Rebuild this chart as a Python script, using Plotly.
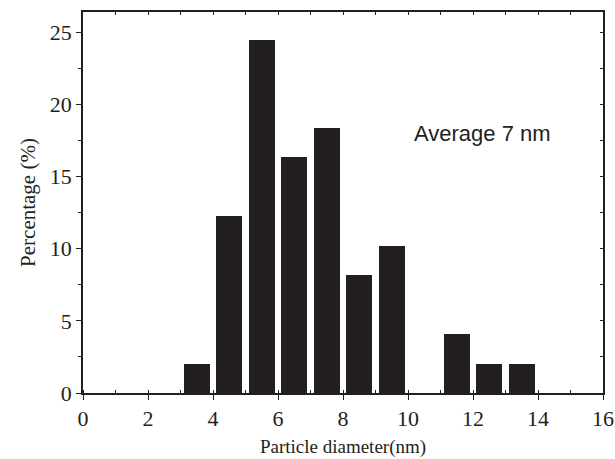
import plotly.graph_objects as go

diameters = [3.5, 4.5, 5.5, 6.5, 7.5, 8.5, 9.5, 10.5, 11.5, 12.5, 13.5]
percentages = [2.04, 12.24, 24.49, 16.33, 18.37, 8.16, 10.20, 0.0, 4.08, 2.04, 2.04]
x_ticks = [0, 2, 4, 6, 8, 10, 12, 14, 16]
y_ticks = [0, 5, 10, 15, 20, 25]

serif = "Liberation Serif"
sans = "Liberation Sans"
axc = "#231f20"

fig = go.Figure()
fig.add_trace(go.Bar(
    x=diameters, y=percentages, width=0.8,
    marker=dict(color="#231f20", line=dict(width=0)),
    showlegend=False,
))
# invisible trace for mirrored axes
fig.add_trace(go.Scatter(x=[0], y=[0], xaxis="x2", yaxis="y2", mode="markers",
                         marker=dict(opacity=0), showlegend=False, hoverinfo="skip"))

xr = [0, 16]
yr = [0, 26.4]
fig.update_layout(
    width=615, height=459,
    margin=dict(l=83, r=12, t=12, b=66),
    paper_bgcolor="white", plot_bgcolor="white",
    bargap=0,
    xaxis=dict(range=xr, tickvals=x_ticks, ticktext=[str(v) for v in x_ticks],
               automargin=False,
               ticks="outside", ticklen=5, tickwidth=1.2, tickcolor=axc,
               minor=dict(dtick=1, ticks="inside", ticklen=3, tickcolor=axc, tickwidth=1.2),
               showline=True, linecolor=axc, linewidth=1.5, showgrid=False, zeroline=False,
               tickfont=dict(family=serif, size=22, color="#231f20"),
               title=dict(text="Particle diameter(nm)", font=dict(family=serif, size=19, color="#231f20"), standoff=10)),
    yaxis=dict(range=yr, tickvals=y_ticks, ticktext=[str(v) for v in y_ticks],
               automargin=False,
               ticks="outside", ticklen=5, tickwidth=1.2, tickcolor=axc,
               minor=dict(dtick=2.5, ticks="outside", ticklen=3, tickcolor=axc, tickwidth=1.2),
               showline=True, linecolor=axc, linewidth=1.5, showgrid=False, zeroline=False,
               tickfont=dict(family=serif, size=22, color="#231f20"),
               title=dict(text="Percentage (%)", font=dict(family=serif, size=21, color="#231f20"), standoff=8)),
    xaxis2=dict(range=xr, overlaying="x", side="top", showticklabels=False, automargin=False,
                tickvals=list(range(0, 17)), ticks="inside", ticklen=3, tickcolor=axc, tickwidth=1.2,
                showline=True, linecolor=axc, linewidth=1.5, showgrid=False, zeroline=False),
    yaxis2=dict(range=yr, overlaying="y", side="right", showticklabels=False, automargin=False,
                tickvals=[2.5 * i for i in range(11)], ticks="inside", ticklen=3, tickcolor=axc, tickwidth=1.2,
                showline=True, linecolor=axc, linewidth=1.5, showgrid=False, zeroline=False),
    annotations=[dict(x=12.3, y=18.0, xref="x", yref="y", text="Average 7 nm", showarrow=False,
                      font=dict(family=sans, size=22, color="#231f20"))],
)

fig.write_html("out.html", config={"displayModeBar": False},
               post_script="document.body.style.margin='0';document.body.style.overflow='hidden';")
